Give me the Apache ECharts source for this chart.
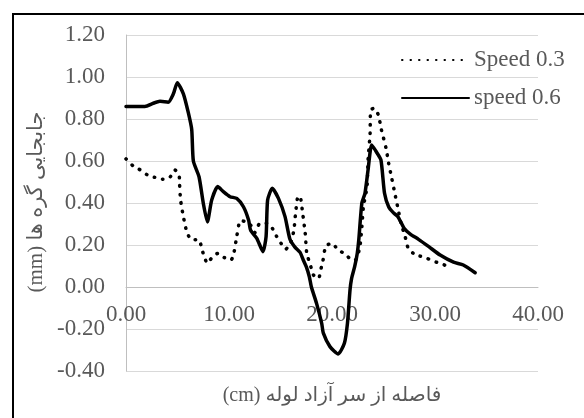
<!DOCTYPE html>
<html>
<head>
<meta charset="utf-8">
<script src="https://cdn.jsdelivr.net/npm/echarts@6/dist/echarts.min.js"></script>
<style>html,body{margin:0;padding:0;background:#fff;}#c{width:584px;height:418px;}</style>
</head>
<body>
<div id="c"></div>
<script>
const seriesNames = ['Speed 0.3', 'speed 0.6'];
const xTicks = [0, 10, 20, 30, 40];
const yTicks = [-0.4, -0.2, 0, 0.2, 0.4, 0.6, 0.8, 1.0, 1.2];

const speed03X = [0.0,0.7,1.4,2.1,2.8,3.6,4.3,4.76,5.15,5.2,5.3,5.57,5.9,6.3,7.1,7.35,7.57,7.9,8.3,8.9,9.55,10.2,10.5,10.75,11.1,11.6,12.1,12.5,13.0,13.66,14.2,14.6,15.05,15.5,16.0,16.3,16.47,16.7,16.9,17.15,17.4,17.55,17.9,18.2,18.7,18.9,19.1,19.4,20.0,20.6,21.3,21.9,22.3,22.7,22.9,23.05,23.4,23.5,23.7,23.75,24.1,24.5,24.8,25.25,25.5,25.8,26.1,26.4,26.7,27.1,27.4,27.9,28.5,29.2,29.8,30.65,31.3];
const speed03Y = [0.61,0.576,0.557,0.533,0.522,0.513,0.525,0.557,0.533,0.49,0.414,0.335,0.263,0.227,0.224,0.184,0.148,0.113,0.137,0.16,0.14,0.129,0.168,0.24,0.316,0.311,0.295,0.259,0.303,0.303,0.28,0.243,0.208,0.18,0.211,0.271,0.354,0.43,0.43,0.351,0.256,0.16,0.105,0.057,0.041,0.081,0.12,0.195,0.208,0.176,0.157,0.129,0.13,0.19,0.287,0.382,0.477,0.605,0.732,0.843,0.851,0.819,0.748,0.66,0.589,0.518,0.446,0.375,0.303,0.24,0.184,0.16,0.148,0.137,0.124,0.11,0.097];

const speed06X = [0,1.84,2.65,3.3,4.1,4.6,4.98,5.57,6.05,6.38,6.54,7.09,7.5,7.9,8.32,8.9,9.45,10.1,10.75,11.4,11.9,12.1,12.7,13.3,13.6,13.75,14.2,14.8,15.44,15.9,16.4,16.9,17.2,17.5,17.8,18.0,18.5,19.0,19.16,19.8,20.6,21.2,21.5,21.75,21.9,22.2,22.45,22.6,22.9,23.2,23.5,23.85,24.3,24.75,25.1,25.5,25.95,26.4,27.0,27.6,28.4,29.4,30.5,31.8,32.75,33.9];
const speed06Y = [0.86,0.86,0.875,0.884,0.88,0.92,0.973,0.92,0.83,0.75,0.60,0.525,0.40,0.31,0.414,0.478,0.454,0.43,0.422,0.382,0.319,0.27,0.232,0.168,0.24,0.414,0.47,0.422,0.335,0.23,0.19,0.165,0.13,0.097,0.049,0.0,-0.078,-0.173,-0.22,-0.284,-0.319,-0.268,-0.173,-0.014,0.04,0.097,0.16,0.224,0.40,0.446,0.557,0.676,0.644,0.605,0.446,0.382,0.354,0.335,0.28,0.252,0.227,0.192,0.152,0.118,0.105,0.068];

const xTitle = '(cm) فاصله از سر آزاد لوله';
const yTitle = '(mm) جابجایی گره ها';

function zip(xs, ys) { return xs.map((x, i) => [x, ys[i]]); }

const FONT = "'Liberation Serif', 'DejaVu Serif', 'DejaVu Sans', serif";
const TXT = '#595959';
const GRID = {left: 126, right: 46, top: 35, bottom: 47};
const plotH = 418 - GRID.top - GRID.bottom;
const yMin = yTicks[0], yMax = yTicks[yTicks.length - 1];
// move the x axis (line + labels) up to the y = 0 level
const zeroOffset = -plotH * (0 - yMin) / (yMax - yMin);

const chart = echarts.init(document.getElementById('c'), null, {renderer: 'canvas'});
chart.setOption({
  backgroundColor: '#ffffff',
  animation: false,
  grid: Object.assign({containLabel: false}, GRID),
  xAxis: {
    type: 'value', min: xTicks[0], max: xTicks[xTicks.length - 1], interval: 10,
    position: 'bottom', offset: zeroOffset,
    axisLine: {show: true, onZero: false, lineStyle: {color: '#bfbfbf', width: 1}},
    axisTick: {show: false},
    splitLine: {show: false},
    axisLabel: {margin: 16, color: TXT, fontFamily: FONT, fontSize: 23, formatter: v => v.toFixed(2)}
  },
  yAxis: {
    type: 'value', min: yMin, max: yMax, interval: 0.2,
    axisLine: {show: true, lineStyle: {color: '#bfbfbf', width: 1}},
    axisTick: {show: false},
    splitLine: {show: true, lineStyle: {color: '#d9d9d9', width: 1}},
    axisLabel: {margin: 21, color: TXT, fontFamily: FONT, fontSize: 23, formatter: v => v.toFixed(2)}
  },
  legend: {
    orient: 'vertical', left: 396, top: 43,
    itemWidth: 67, itemHeight: 14, itemGap: 14,
    itemStyle: {opacity: 0},
    textStyle: {color: TXT, fontFamily: FONT, fontSize: 23, lineHeight: 24},
    data: seriesNames
  },
  graphic: [
    {type: 'rect', shape: {x: 13, y: 14, width: 700, height: 600}, style: {fill: 'none', stroke: '#000', lineWidth: 2}, silent: true},
    {type: 'text', x: 332, y: 396, style: {text: xTitle, fill: TXT, font: "20px " + FONT, textAlign: 'center', textVerticalAlign: 'middle'}},
    {type: 'text', x: 36, y: 202, rotation: Math.PI / 2, style: {text: yTitle, fill: TXT, font: "21px " + FONT, textAlign: 'center', textVerticalAlign: 'middle'}}
  ],
  series: [
    {
      name: seriesNames[0], type: 'line', data: zip(speed03X, speed03Y),
      symbol: 'none', smooth: 0.2,
      lineStyle: {color: '#000', width: 3.5, type: [0.5, 8], cap: 'round'},
      itemStyle: {color: '#000', opacity: 0}
    },
    {
      name: seriesNames[1], type: 'line', data: zip(speed06X, speed06Y),
      symbol: 'none', smooth: 0.2,
      lineStyle: {color: '#000', width: 3.5, type: 'solid', cap: 'round', join: 'round'},
      itemStyle: {color: '#000', opacity: 0}
    }
  ]
});
</script>
</body>
</html>
